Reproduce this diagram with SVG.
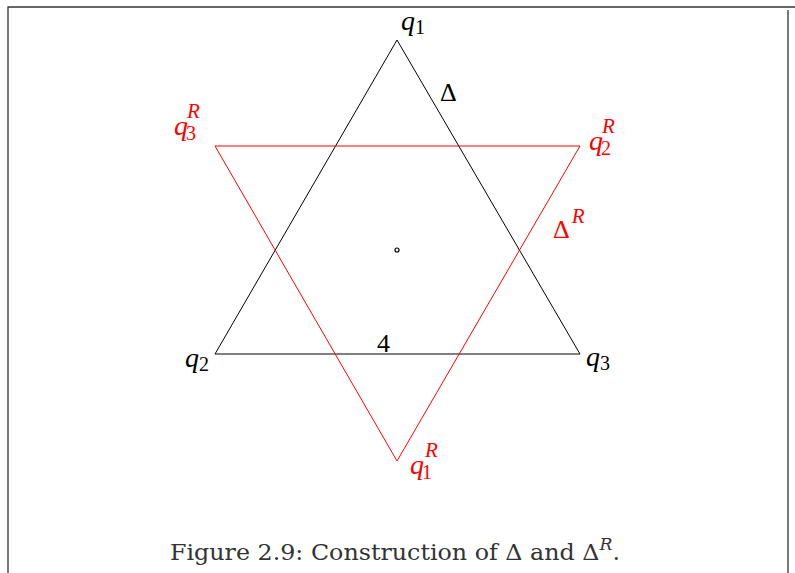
<svg xmlns="http://www.w3.org/2000/svg" width="795" height="573" viewBox="0 0 795 573">
<style>
.lbl{font-family:"Liberation Serif","DejaVu Serif",serif;font-size:28px;font-style:italic}
.sub{font-family:"Liberation Serif","DejaVu Serif",serif;font-size:20px;font-style:normal}
.sup{font-family:"Liberation Serif","DejaVu Serif",serif;font-size:21px;font-style:italic}
.up{font-family:"Liberation Serif","DejaVu Serif",serif;font-size:26px;font-style:normal}
.cap{font-family:"DejaVu Serif","Liberation Serif",serif;font-size:22px;fill:#333}
.csup{font-family:"DejaVu Serif","Liberation Serif",serif;font-size:16px;font-style:italic}
.blk{fill:#000}
.red{fill:#ff0000}
</style>
<rect width="795" height="573" fill="#fff"/>
<path d="M8 573 V7 H795 M788 10 V573" fill="none" stroke="#333" stroke-width="1.3"/>
<g id="connectors" fill="none" stroke-width="1">
<polygon id="tri" points="397,40 215,354 580,354" stroke="#000"/>
<polygon id="triR" points="215,146 580,146 397,461" stroke="#ff0000"/>
</g>
<g id="center"><circle cx="397" cy="250" r="2" fill="#fff" stroke="#000" stroke-width="1.2"/></g>
<g id="q1"><text x="401" y="30" class="lbl blk">q<tspan class="sub" dy="4">1</tspan></text></g>
<g id="q2"><text x="185" y="367" class="lbl blk">q<tspan class="sub" dy="4">2</tspan></text></g>
<g id="q3"><text x="586" y="366" class="lbl blk">q<tspan class="sub" dy="4">3</tspan></text></g>
<g id="delta"><text x="440" y="101" class="up blk">Δ</text></g>
<g id="four"><text x="377" y="352" class="up blk">4</text></g>
<g id="q3R"><text x="174" y="135" class="lbl red">q<tspan class="sub" dx="-2" dy="5">3</tspan><tspan class="sup" dx="-9" dy="-22">R</tspan></text></g>
<g id="q2R"><text x="589" y="150" class="lbl red">q<tspan class="sub" dx="-2" dy="5">2</tspan><tspan class="sup" dx="-9" dy="-22">R</tspan></text></g>
<g id="q1R"><text x="410" y="474" class="lbl red">q<tspan class="sub" dx="-2" dy="5">1</tspan><tspan class="sup" dx="-7" dy="-22">R</tspan></text></g>
<g id="deltaR"><text x="553" y="238" class="up red">Δ<tspan class="sup" dx="2" dy="-15">R</tspan></text></g>
<g id="caption"><text x="170" y="560" class="cap" textLength="450" lengthAdjust="spacingAndGlyphs">Figure 2.9: Construction of Δ and Δ<tspan class="csup" dy="-10">R</tspan><tspan dy="10">.</tspan></text></g>
</svg>
